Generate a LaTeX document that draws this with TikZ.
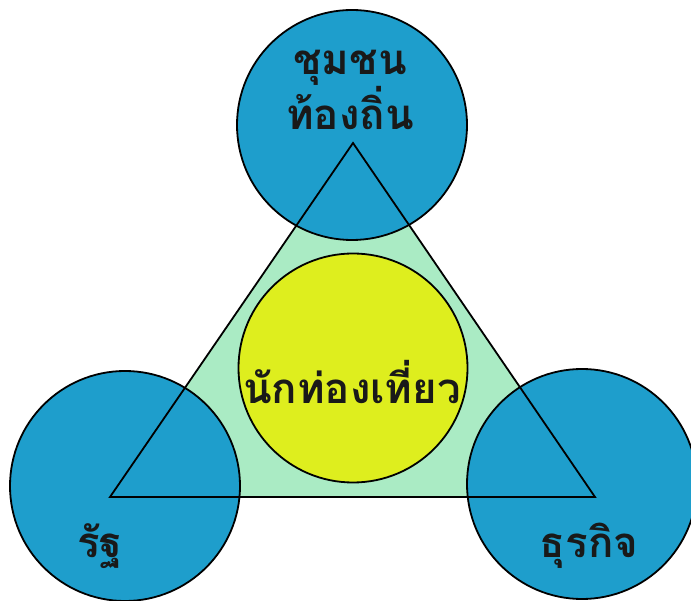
\documentclass[tikz,border=0pt]{standalone}
\usepackage{fontspec}
\newfontfamily\thaifont[Script=Thai]{Loma}
\usepackage{tikz}
\usetikzlibrary{positioning}

\definecolor{partyblue}{RGB}{30,158,204}
\definecolor{zonegreen}{RGB}{170,235,196}
\definecolor{touristyellow}{RGB}{222,238,30}

\begin{document}
\begin{tikzpicture}[x=1pt, y=-1pt,
    party/.style={draw, circle, line width=1.8pt, fill=partyblue, minimum size=230pt, inner sep=0pt},
    centre/.style={draw, circle, line width=1.8pt, fill=touristyellow, minimum size=229pt, inner sep=0pt},
    word/.style={font=\thaifont\bfseries\fontsize{42}{48}\selectfont, text=black!90, align=center, inner sep=0pt}]
      \useasboundingbox (0,0) rectangle (691,601);

      % Triangle corners
      \coordinate (apex) at (353, 143);
      \coordinate (west) at (110, 497);
      \coordinate (east) at (595, 497);

      % Triangle fill
      \fill[zonegreen] (apex) -- (west) -- (east) -- cycle;

      % Outer circles
      \node[party] (community) at (352, 125) {};
      \node[party] (state) at (125, 486) {};
      \node[party] (business) at (582, 484) {};

      % Triangle outline
      \draw[line width=1.8pt, line join=miter] (apex) -- (west) -- (east) -- cycle;

      % Tourist in the middle
      \node[centre] (tourist) at (353, 368) {};

      % Labels
      \node[word] (communitytext) at (350, 90) {ชุมชน\\ท้องถิ่น};
      \node[word] (statetext) at (100, 546) {รัฐ};
      \node[word] (businesstext) at (589, 546) {ธุรกิจ};
      \node[word] (touristtext) at (352, 382) {นักท่องเที่ยว};
\end{tikzpicture}
\end{document}
